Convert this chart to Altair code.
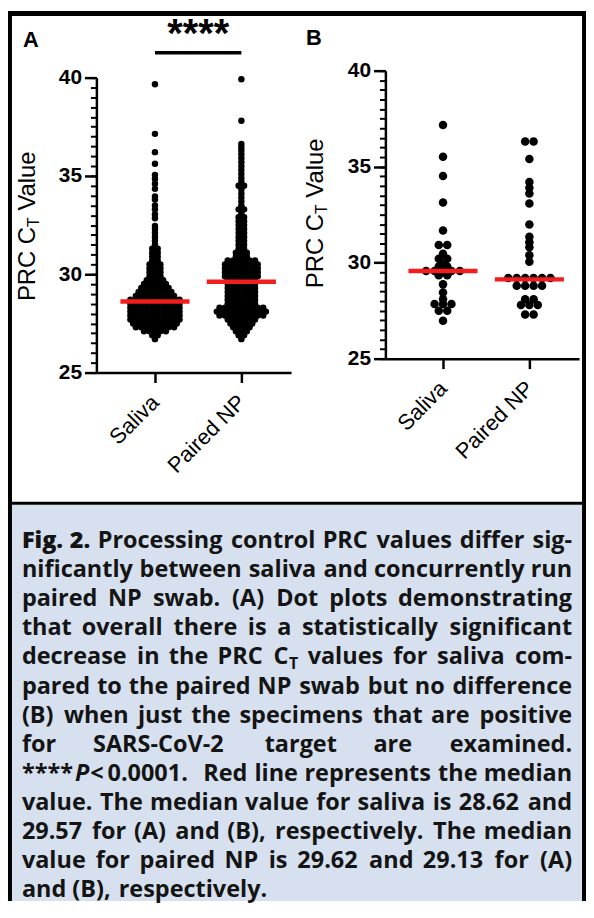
import json
import altair as alt
import pandas as pd

# ------------------------------------------------------------------ data
groups = ["Saliva", "Paired NP"]
y_ticks = [25, 30, 35, 40]

# Panel A: dot rows (PRC CT value, number of dots in that row)
sal_a_vals = [26.7, 26.9, 27.1, 27.3, 27.5, 27.7, 27.9, 28.1, 28.3, 28.5, 28.7, 28.9,
              29.1, 29.3, 29.5, 29.7, 29.9, 30.1, 30.3, 30.5, 30.7, 30.9, 31.1, 31.3,
              31.5, 31.7, 31.9, 32.1, 32.3, 32.45, 32.85, 33.05, 33.3, 33.5, 33.8, 33.95,
              34.35, 34.6, 34.85, 35.05, 35.62, 36.21, 37.14, 39.66]
sal_a_counts = [1, 2, 5, 8, 9, 10, 10, 10, 10, 10, 10, 8,
                7, 6, 5, 4, 3, 3, 3, 3, 2, 2, 2, 2,
                1, 1, 1, 1, 1, 1, 1, 1, 1, 1, 1, 1,
                1, 1, 1, 1, 1, 1, 1, 1]
np_a_vals = [26.7, 26.9, 27.1, 27.3, 27.5, 27.7, 27.9, 28.1, 28.3, 28.5, 28.7, 28.9,
             29.1, 29.3, 29.5, 29.7, 29.9, 30.1, 30.3, 30.5, 30.7, 30.9, 31.1, 31.3,
             31.5, 31.7, 31.9, 32.1, 32.3, 32.5, 32.7, 32.9, 33.1, 33.3, 33.5, 33.7,
             33.9, 34.1, 34.3, 34.5, 34.7, 34.9, 35.1, 35.3, 35.5, 35.7, 35.9, 36.1,
             36.3, 36.45, 36.63, 37.81, 39.92]
np_a_counts = [1, 2, 3, 4, 5, 6, 9, 10, 9, 6, 6, 6,
               6, 6, 6, 6, 7, 7, 7, 7, 6, 3, 3, 2,
               2, 2, 2, 2, 2, 2, 2, 2, 1, 2, 1, 1,
               1, 1, 1, 2, 1, 1, 1, 1, 1, 1, 1, 1,
               1, 1, 1, 1, 1]

# Panel B: SARS-CoV-2 positive specimens only
sal_b_vals = [26.97, 27.5, 27.85, 28.1, 28.45, 28.87, 29.35, 29.57, 29.8, 29.92,
              30.2, 30.47, 30.92, 31.68, 33.13, 34.51, 35.52, 37.17]
sal_b_counts = [1, 2, 3, 1, 1, 1, 2, 5, 2, 1, 2, 1, 2, 1, 1, 1, 1, 1]
np_b_vals = [27.3, 27.8, 28.1, 28.8, 29.2, 30.05, 30.39, 30.8, 31.06, 31.35,
             31.99, 33.08, 33.6, 33.9, 34.2, 35.4, 36.31]
np_b_counts = [2, 3, 2, 4, 6, 1, 1, 1, 1, 1, 1, 1, 1, 1, 1, 1, 2]

medians_a = [28.62, 29.62]
medians_b = [29.57, 29.13]
sig_label = "****"
panel_labels = ["A", "B"]
y_title = ["PRC C", "T", "Value"]

# caption, one entry per printed line ("C_T" = C with subscript T)
caption_lines = [
    "Fig. 2. Processing control PRC values differ sig-",
    "nificantly between saliva and concurrently run",
    "paired NP swab. (A) Dot plots demonstrating",
    "that overall there is a statistically significant",
    "decrease in the PRC C_T values for saliva com-",
    "pared to the paired NP swab but no difference",
    "(B) when just the specimens that are positive",
    "for SARS-CoV-2 target are examined.",
    "****P\u2009<\u20090.0001. Red line represents the median",
    "value. The median value for saliva is 28.62 and",
    "29.57 for (A) and (B), respectively. The median",
    "value for paired NP is 29.62 and 29.13 for (A)",
    "and (B), respectively.",
]

# ------------------------------------------------------------------ layout / style
W, H = 582, 896
AX_FONT = "Liberation Sans"
CAP_FONT = "Open Sans"
CAP_COLOR = "#141414"
RED = "#f31d1d"
CFS = 23.6   # caption font size
SUB = 16     # subscript size
K = 1.03     # width calibration for the estimates below

# rough advance widths (em) of Open Sans Bold, used only to justify caption lines
EM = dict(zip("abcdefghijklmnopqrstuvwxyz",
              [.586, .613, .507, .613, .580, .383, .544, .631, .297, .297, .592, .297, .948,
               .631, .604, .613, .613, .437, .497, .416, .631, .565, .854, .580, .565, .483]))
EM.update({"A": .69, "B": .67, "C": .64, "D": .74, "F": .55, "N": .80, "P": .63, "R": .66,
           "S": .56, "T": .57, "V": .66, " ": .26, ".": .29, ",": .29, "(": .35, ")": .35,
           "-": .32, "*": .55, "<": .57, "\u2009": .2})
EM.update({d: .572 for d in "0123456789"})


def tw(s, size):
    return K * size * sum(EM.get(ch, .55) for ch in s)


one = pd.DataFrame({"k": [0]})


def lin(d0, d1, r0, r1):
    return alt.Scale(domain=[d0, d1], range=[r0, r1], nice=False, zero=False)


xA = lin(0.322, 2.575, 89, 285)
yA = lin(25, 40, 364, 67)
xB = lin(0.333, 2.575, 380, 575)
yB = lin(25, 40, 350, 60)


def expand(vals_list, counts_list):
    recs = []
    for gi, (vals, counts) in enumerate(zip(vals_list, counts_list)):
        for v, c in zip(vals, counts):
            recs.extend({"grp": gi + 1, "value": v} for _ in range(c))
    return pd.DataFrame(recs)


def dots(df, xs, ys, spacing, size):
    return (
        alt.Chart(df)
        .transform_window(k="row_number()", groupby=["grp", "value"])
        .transform_joinaggregate(n="count()", groupby=["grp", "value"])
        .transform_calculate(xp=f"datum.grp + (datum.k - (datum.n + 1) / 2) * {spacing}")
        .mark_circle(size=size, color="black", opacity=1)
        .encode(x=alt.X("xp:Q", scale=xs, axis=None), y=alt.Y("value:Q", scale=ys, axis=None))
    )


label_expr = f"{json.dumps(groups)}[datum.value - 1]"


def median_layer(meds, xs, ys, axis_x_px, axis_y_px):
    df = pd.DataFrame({"grp": [1, 2], "median": meds})
    xaxis = alt.Axis(orient="bottom", offset=axis_y_px - H, values=[1, 2], labelExpr=label_expr,
                     labelAngle=315, labelAlign="right", labelBaseline="middle", labelPadding=16,
                     tickSize=10, tickWidth=2.5, domainWidth=2.5, labelFont=AX_FONT,
                     labelFontSize=22, labelColor="black", title=None, grid=False,
                     domainColor="black", tickColor="black")
    yaxis = alt.Axis(orient="left", offset=-axis_x_px, values=y_ticks, tickSize=12, tickWidth=2.5,
                     domainWidth=2.5, labelFont=AX_FONT, labelFontSize=21, labelFontWeight="bold",
                     labelColor="black", labelPadding=3, title=None, grid=False,
                     domainColor="black", tickColor="black", labelFlush=False)
    return (
        alt.Chart(df)
        .transform_calculate(lo="datum.grp - 0.4", hi="datum.grp + 0.4")
        .mark_rule(color=RED, strokeWidth=4.5)
        .encode(x=alt.X("lo:Q", scale=xs, axis=xaxis), x2="hi:Q",
                y=alt.Y("median:Q", scale=ys, axis=yaxis))
    )


def minor_layer(meds, ys, axis_x_px):
    df = pd.DataFrame({"median": meds})
    return alt.Chart(df).mark_point(opacity=0).encode(
        y=alt.Y("median:Q", scale=ys,
                axis=alt.Axis(orient="left", offset=-axis_x_px, tickCount=30, labels=False,
                              domain=False, tickSize=6, tickWidth=2, tickColor="black",
                              grid=False, title=None)))


def txt(text, x, y, size, weight="normal", font=AX_FONT, angle=None, align="left",
        baseline="alphabetic", color="black", style="normal"):
    kw = dict(text=text, font=font, fontSize=size, fontWeight=weight, align=align,
              baseline=baseline, color=color, fontStyle=style)
    if angle is not None:
        kw["angle"] = angle
    return alt.Chart(one).mark_text(**kw).encode(x=alt.value(x), y=alt.value(y))


def ytitle(x0, y0):
    fs, fsub = 24, 16
    y1 = y0 - 3.111 * fs
    y2 = y1 - 0.611 * fsub - 0.278 * fs
    return [
        txt(y_title[0], x0, y0, fs, angle=270, baseline="middle"),
        txt(y_title[1], x0 + 6, y1, fsub, angle=270, baseline="middle"),
        txt(y_title[2], x0, y2, fs, angle=270, baseline="middle"),
    ]


def rect(x, x2, y, y2, color):
    return alt.Chart(one).mark_rect(color=color).encode(
        x=alt.value(x), x2=alt.value(x2), y=alt.value(y), y2=alt.value(y2))


layers = []
# frame and caption box
layers.append(rect(4, W - 4, 497, H, "#d6e0ee"))
layers.append(rect(0, W, 0, 5, "black"))
layers.append(rect(0, 4, 0, H, "black"))
layers.append(rect(W - 4, W, 0, H, "black"))
layers.append(rect(0, W, 494, 497, "black"))

# panel A
layers.append(minor_layer(medians_a, yA, 89))
layers.append(dots(expand([sal_a_vals, np_a_vals], [sal_a_counts, np_a_counts]), xA, yA, 5.5 / 87, 42))
layers.append(median_layer(medians_a, xA, yA, 89, 364))
sig_df = pd.DataFrame({"a": [1], "b": [2], "label": [sig_label]})
layers.append(alt.Chart(sig_df).mark_rule(color="black", strokeWidth=3.5).encode(
    x=alt.X("a:Q", scale=xA, axis=None), x2="b:Q", y=alt.value(42)))
layers.append(alt.Chart(sig_df).transform_calculate(m="(datum.a + datum.b) / 2").mark_text(
    font=AX_FONT, fontSize=40, fontWeight="bold", baseline="alphabetic", align="center", color="black"
).encode(x=alt.X("m:Q", scale=xA, axis=None), y=alt.value(36), text="label:N"))
layers.append(txt(panel_labels[0], 15, 36, 22, weight="bold"))
layers += ytitle(20, 292)

# panel B
layers.append(minor_layer(medians_b, yB, 380))
layers.append(dots(expand([sal_b_vals, np_b_vals], [sal_b_counts, np_b_counts]), xB, yB, 8.5 / 87, 74))
layers.append(median_layer(medians_b, xB, yB, 380, 350))
layers.append(txt(panel_labels[1], 300, 34, 22, weight="bold"))
layers += ytitle(310, 279)

# caption: justified word by word
LX, RX = 14, 568
rows = {k: [] for k in ("bold", "heavy", "italic", "sub", "right")}
for li, line in enumerate(caption_lines):
    words = line.split(" ")
    parts = []
    for w in words:
        if li == 0 and w in ("Fig.", "2."):
            parts.append([("heavy", w, CFS)])
        elif w == "C_T":
            parts.append([("bold", "C", CFS), ("sub", "T", SUB)])
        elif w.startswith("****P"):
            parts.append([("bold", "****", CFS), ("italic", "P", CFS), ("bold", w[5:], CFS)])
        else:
            parts.append([("bold", w, CFS)])
    widths = [sum(tw(t, s) for _, t, s in p) for p in parts]
    last_line = li == len(caption_lines) - 1
    gap = tw(" ", CFS) if last_line else (RX - LX - sum(widths)) / (len(words) - 1)
    x = LX
    for wi, p in enumerate(parts):
        if not last_line and wi == len(parts) - 1 and len(p) == 1:
            rows["right"].append({"line": li, "px": RX, "t": p[0][1]})
        else:
            px = x
            for style, t, s in p:
                rows[style].append({"line": li, "px": px, "t": t})
                px += tw(t, s)
        x += widths[wi] + gap

cap_y = lin(0, 12, 540.5, 892.5)
px_scale = lin(0, W, 0, W)
styles = {
    "bold": dict(fontWeight="bold", align="left"),
    "heavy": dict(fontWeight=800, align="left"),
    "italic": dict(fontWeight="bold", fontStyle="italic", align="left"),
    "sub": dict(fontWeight="bold", align="left", fontSize=SUB, dy=5),
    "right": dict(fontWeight="bold", align="right"),
}
for key, st in styles.items():
    if not rows[key]:
        continue
    kw = dict(baseline="alphabetic", font=CAP_FONT, fontSize=CFS, color=CAP_COLOR)
    kw.update(st)
    layers.append(alt.Chart(pd.DataFrame(rows[key])).mark_text(**kw).encode(
        x=alt.X("px:Q", scale=px_scale, axis=None),
        y=alt.Y("line:Q", scale=cap_y, axis=None),
        text="t:N"))

chart = (
    alt.layer(*layers)
    .resolve_scale(x="independent", y="independent")
    .properties(width=W, height=H, autosize=alt.AutoSizeParams(type="none"), padding=0,
                background="white")
    .configure_view(stroke=None)
)

chart.save("out.html", embed_options={"renderer": "svg", "actions": False})
